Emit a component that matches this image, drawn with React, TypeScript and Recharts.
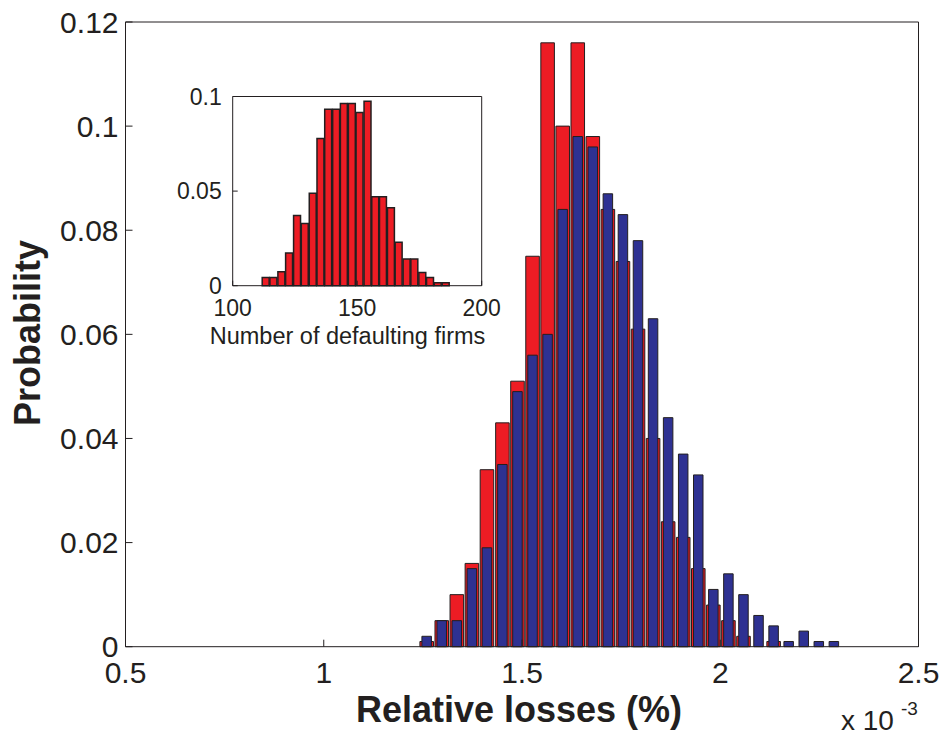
import React from "react";
import { ComposedChart, BarChart, Bar, XAxis, YAxis } from "recharts";

// main histogram: relative losses (x 10^-3), two distributions on the same bins
const lossBins = [
  1.259, 1.297, 1.335, 1.373, 1.411, 1.45, 1.488, 1.526, 1.564, 1.602, 1.64,
  1.678, 1.716, 1.754, 1.792, 1.83, 1.868, 1.906, 1.944, 1.982, 2.02, 2.058,
  2.096, 2.134, 2.172, 2.21, 2.248, 2.286,
];
const redProb = [
  0.001, 0.005, 0.01, 0.016, 0.034, 0.043, 0.051, 0.075, 0.116, 0.1, 0.116,
  0.098, 0.084, 0.074, 0.061, 0.04, 0.024, 0.021, 0.015, 0.008, 0.005, 0.002,
  null, 0.001, null, null, null, null,
];
const blueProb = [
  0.002, 0.005, 0.005, 0.015, 0.019, 0.035, 0.049, 0.056, 0.06, 0.084, 0.098,
  0.096, 0.087, 0.083, 0.078, 0.063, 0.044, 0.037, 0.033, 0.011, 0.014, 0.01,
  0.006, 0.004, 0.001, 0.003, 0.001, 0.001,
];
const lossTicks = [0.5, 1, 1.5, 2, 2.5];
const probTicks = [0, 0.02, 0.04, 0.06, 0.08, 0.1, 0.12];

// inset histogram: number of defaulting firms
const firmBins = [
  113.4, 116.5, 119.7, 122.8, 126.0, 129.1, 132.3, 135.4, 138.5, 141.7, 144.8,
  148.0, 151.1, 154.3, 157.4, 160.5, 163.7, 166.8, 170.0, 173.1, 176.3, 179.4,
  182.5, 185.7,
];
const firmProb = [
  0.0044, 0.0044, 0.0074, 0.0173, 0.0371, 0.0329, 0.0488, 0.0778, 0.0933,
  0.0933, 0.0963, 0.0963, 0.0915, 0.0975, 0.047, 0.047, 0.0412, 0.0229, 0.0141,
  0.0141, 0.007, 0.0044, 0.0016, 0.0016,
];
const firmTicks = [100, 150, 200];
const firmProbTicks = [0, 0.05, 0.1];

const RED = "#ED1C24";
const BLUE = "#2E3192";
const INK = "#231F20";
const FONT = "'Liberation Sans', Arial, Helvetica, sans-serif";

const lossRows = lossBins.map((x, i) => ({ x, red: redProb[i], blue: blueProb[i] }));
const firmRows = firmBins.map((x, i) => ({ x, p: firmProb[i] }));

export default function App() {
  const mainTick = { fontSize: 30, fill: INK, fontFamily: FONT };
  const insetTick = { fontSize: 23, fill: INK, fontFamily: FONT };

  // axes are 1px thick boxes, so the margins lose 1px on every side
  return (
    <div
      style={{
        position: "absolute",
        left: 0,
        top: 0,
        width: 947,
        height: 738,
        background: "#fff",
      }}
    >
      <ComposedChart
        width={947}
        height={738}
        data={lossRows}
        margin={{ top: 21, right: 27.5, bottom: 90.3, left: 124.5 }}
      >
        <XAxis
          xAxisId="red"
          dataKey="x"
          type="number"
          domain={[0.5, 2.5]}
          ticks={lossTicks}
          height={1}
          tickSize={-7}
          tickMargin={22}
          stroke={INK}
          tick={mainTick}
        />
        <XAxis
          xAxisId="blue"
          dataKey="x"
          type="number"
          domain={[0.5, 2.5]}
          height={0}
          hide
        />
        <XAxis
          xAxisId="top"
          dataKey="x"
          orientation="top"
          type="number"
          domain={[0.5, 2.5]}
          ticks={lossTicks}
          height={1}
          tickSize={-7}
          tick={false}
          stroke={INK}
        />
        <YAxis
          domain={[0, 0.12]}
          ticks={probTicks}
          width={1}
          tickSize={-7}
          tickMargin={14}
          stroke={INK}
          tick={mainTick}
        />
        <YAxis
          yAxisId="right"
          orientation="right"
          domain={[0, 0.12]}
          ticks={probTicks}
          width={1}
          tickSize={-7}
          tick={false}
          stroke={INK}
        />
        <Bar
          xAxisId="red"
          dataKey="red"
          barSize={15.07}
          fill={RED}
          stroke={INK}
          strokeWidth={1}
          isAnimationActive={false}
        />
        <Bar
          xAxisId="blue"
          dataKey="blue"
          barSize={9.5}
          fill={BLUE}
          stroke={INK}
          strokeWidth={1}
          isAnimationActive={false}
        />
      </ComposedChart>

      <div style={{ position: "absolute", left: 150, top: 70, width: 360, height: 300 }}>
        <BarChart
          width={360}
          height={300}
          data={firmRows}
          margin={{ top: 25.5, right: 27.3, bottom: 83.3, left: 81.7 }}
        >
          <XAxis
            dataKey="x"
            type="number"
            domain={[100, 200]}
            ticks={firmTicks}
            height={1}
            tickSize={-5}
            tickMargin={19}
            stroke={INK}
            tick={insetTick}
          />
          <XAxis
            xAxisId="top"
            dataKey="x"
            orientation="top"
            type="number"
            domain={[100, 200]}
            ticks={firmTicks}
            height={1}
            tickSize={-5}
            tick={false}
            stroke={INK}
          />
          <YAxis
            domain={[0, 0.1]}
            ticks={firmProbTicks}
            width={1}
            tickSize={-5}
            tickMargin={16}
            stroke={INK}
            tick={insetTick}
          />
          <YAxis
            yAxisId="right"
            orientation="right"
            domain={[0, 0.1]}
            ticks={firmProbTicks}
            width={1}
            tickSize={-5}
            tick={false}
            stroke={INK}
          />
          <Bar
            dataKey="p"
            barSize={7.83}
            fill={RED}
            stroke={INK}
            strokeWidth={1.5}
            isAnimationActive={false}
          />
        </BarChart>
      </div>

      <svg
        width={947}
        height={738}
        style={{ position: "absolute", left: 0, top: 0, pointerEvents: "none" }}
        fontFamily={FONT}
        fill={INK}
      >
        <text x={519} y={722} fontSize={36} fontWeight="bold" textAnchor="middle">
          Relative losses (%)
        </text>
        <text
          x={0}
          y={0}
          fontSize={36}
          fontWeight="bold"
          textAnchor="middle"
          transform="translate(40 333) rotate(-90)"
        >
          Probability
        </text>
        <text x={841} y={730} fontSize={28}>
          x 10
        </text>
        <text x={901} y={715} fontSize={19}>
          -3
        </text>
        <text x={347.5} y={344} fontSize={23.5} textAnchor="middle">
          Number of defaulting firms
        </text>
      </svg>
    </div>
  );
}
